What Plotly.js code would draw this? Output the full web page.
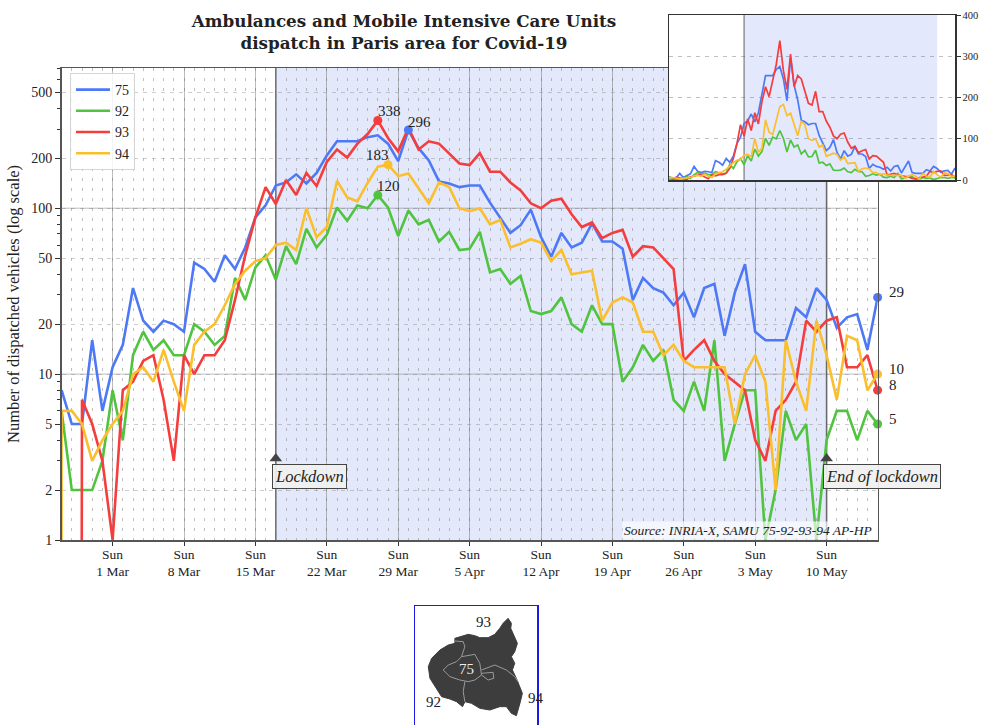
<!DOCTYPE html>
<html><head><meta charset="utf-8">
<script src="https://cdn.plot.ly/plotly-3.0.1.min.js"></script>
<style>html,body{margin:0;padding:0;background:#fff}</style></head>
<body><div id="chart" style="width:981px;height:725px"></div>
<script>
const W = 981, H = 725;
// daily counts, 24 Feb 2020 to 15 May 2020 (null = not visible)
const s75 = [null,8,5,5,16,6,11,15,33,21,18,21,20,18,47,43,36,52,43,58,88,104,137,143,160,141,163,208,253,253,253,268,275,245,192,296,230,194,145,141,134,137,137,108,88,71,79,98,67,51,71,58,62,81,63,63,57,28,38,33,31,26,31,22,33,35,17,31,46,18,16,16,16,25,22,33,28,19,22,23,14,29];
const s92 = [null,6,2,2,2,3,8,4,13,18,14,16,13,13,20,18,15,17,38,28,44,52,37,59,46,75,58,69,101,84,104,100,120,101,68,97,80,85,63,72,56,57,72,41,43,35,39,24,23,24,29,20,18,26,20,20,9,11,15,12,14,7,6,9,6,16,3,5,8,8,1,2,6,4,5,1,4,6,6,4,6,5];
const s93 = [0,0,0,7,5,3,1,8,9,12,13,7,3,13,10,13,13,16,28,52,88,134,106,148,120,163,136,190,226,202,245,280,338,265,220,305,226,253,245,214,186,182,215,166,166,143,128,107,100,111,114,92,77,82,66,71,74,51,59,58,50,43,12,14,16,12,10,9,8,4,3,6,7,9,21,18,21,22,11,11,13,8];
const s94 = [0,6,6,5,3,4,5,6,10,11,9,14,9,6,15,18,20,26,35,42,48,50,60,62,56,100,67,77,146,116,110,142,178,183,156,162,132,107,143,134,100,96,100,80,85,58,61,65,62,48,56,40,41,42,21,27,29,27,18,18,13,15,12,11,11,11,11,5,10,13,9,2,16,9,6,21,13,7,17,16,8,10];
const seriesNames = ['75','92','93','94'];
const seriesValues = [s75,s92,s93,s94];
const seriesColors = ['#4d79f6','#50c43f','#f53d3d','#fbbf2d'];
const peakDays = ['2020-03-30','2020-03-27','2020-03-27','2020-03-28'];
const peakValues = [296,120,338,183];
const peakOffsets = [[11,-8],[11,-9],[12,-9],[-11,-10]];
const lastValues = [29,5,8,10];
const sundays = ['2020-03-01','2020-03-08','2020-03-15','2020-03-22','2020-03-29','2020-04-05','2020-04-12','2020-04-19','2020-04-26','2020-05-03','2020-05-10'];
const sundayLabels = ['1 Mar','8 Mar','15 Mar','22 Mar','29 Mar','5 Apr','12 Apr','19 Apr','26 Apr','3 May','10 May'];
const yTicks = [1,2,5,10,20,50,100,200,500];
const yMinor = [3,4,6,7,8,9,30,40,60,70,80,90,300,400,600,700];
const lockStart = '2020-03-17', lockEnd = '2020-05-10';
const startDay = '2020-02-25', endDay = '2020-05-15';
const insetMax = 400;
// schematic departement map (map units)
const mapOutline = [[165,130],[195,122],[205,118],[225,122],[240,128],[265,128],[285,118],[300,100],[310,85],[325,70],[335,85],[333,100],[345,125],[353,145],[345,170],[335,185],[345,205],[338,225],[350,250],[360,275],[368,295],[362,320],[355,345],[350,362],[335,355],[320,335],[300,335],[270,345],[240,340],[215,325],[195,320],[188,335],[170,320],[150,312],[125,305],[105,275],[90,250],[85,215],[95,190],[120,165],[145,150],[165,145],[165,130]];
const mapBorders = [
 [[130,225],[145,210],[170,200],[185,185],[225,178],[240,205],[245,240],[225,255],[205,260],[180,255],[150,245],[130,225]],
 [[165,138],[190,140],[195,155],[185,185]],
 [[195,260],[190,290],[195,320]],
 [[245,225],[285,210],[320,225],[345,245],[355,260]],
 [[245,235],[280,232],[282,250],[265,255],[245,240]]
];
const mapLabels = [['93',250,80,'#222'],['75',200,222,'#eee'],['92',100,320,'#222'],['94',410,310,'#222']];

const FONT = 'Liberation Serif';
const ZERO_ON_LOG = 1e-100;
const dates = [];
for (let i = 0; i < s75.length; i++) {
  const d = new Date(Date.UTC(2020,1,24+i));
  dates.push(d.toISOString().slice(0,10));
}
const allDays = dates.slice(1);
const lastDay = dates[dates.length-1];
const fx = p => p / W, fy = p => 1 - p / H;

const traces = [];
seriesNames.forEach((n,i) => {
  traces.push({x:dates, y:seriesValues[i].map(v => v===null?null:(v>0?v:ZERO_ON_LOG)), name:n, mode:'lines', type:'scatter',
    line:{color:seriesColors[i], width:2.6}, xaxis:'x', yaxis:'y', hoverinfo:'skip'});
});
seriesNames.forEach((n,i) => {
  traces.push({x:[peakDays[i], lastDay], y:[peakValues[i], lastValues[i]], mode:'markers', type:'scatter', showlegend:false,
    cliponaxis:false, marker:{color:seriesColors[i], size:9}, xaxis:'x', yaxis:'y', hoverinfo:'skip'});
});
traces.push({x:[lockStart, lockEnd], y:[3.1,3.1], mode:'markers', type:'scatter', showlegend:false, cliponaxis:false,
  marker:{symbol:'triangle-up', color:'#444', size:11}, xaxis:'x', yaxis:'y', hoverinfo:'skip'});
// inset lockdown band, drawn as traces so it sits above the inset's own background
traces.push({x:[lockStart,lockEnd,lockEnd,lockStart,lockStart], y:[0,0,insetMax,insetMax,0], mode:'lines', type:'scatter', fill:'toself',
  fillcolor:'rgba(70,100,235,.15)', line:{width:0}, showlegend:false, xaxis:'x2', yaxis:'y2', hoverinfo:'skip'});
traces.push({x:[lockStart,lockStart], y:[0,insetMax], mode:'lines', type:'scatter', line:{color:'rgba(70,70,70,.6)', width:1.4},
  showlegend:false, xaxis:'x2', yaxis:'y2', hoverinfo:'skip'});
seriesNames.forEach((n,i) => {
  traces.push({x:dates, y:seriesValues[i], mode:'lines', type:'scatter', showlegend:false,
    line:{color:seriesColors[i], width:1.7}, xaxis:'x2', yaxis:'y2', hoverinfo:'skip'});
});
traces.push({x:mapOutline.map(p=>p[0]), y:mapOutline.map(p=>p[1]), mode:'lines', type:'scatter', fill:'toself', fillcolor:'#3d3d3d',
  line:{color:'#3d3d3d', width:1}, showlegend:false, xaxis:'x3', yaxis:'y3', hoverinfo:'skip'});
mapBorders.forEach(b => traces.push({x:b.map(p=>p[0]), y:b.map(p=>p[1]), mode:'lines', type:'scatter',
  line:{color:'#9a9a9a', width:1}, showlegend:false, xaxis:'x3', yaxis:'y3', hoverinfo:'skip'}));

const shapes = [
  {type:'rect', xref:'x', yref:'y domain', x0:lockStart, x1:lockEnd, y0:0, y1:1, fillcolor:'#e3e8fb', line:{width:0}, layer:'below'},
  {type:'line', xref:'x', yref:'y domain', x0:lockStart, x1:lockStart, y0:0, y1:1, line:{color:'rgba(70,70,70,.75)', width:1.6}, layer:'below'},
  {type:'line', xref:'x', yref:'y domain', x0:lockEnd, x1:lockEnd, y0:0, y1:1, line:{color:'rgba(70,70,70,.75)', width:1.6}, layer:'below'},
  {type:'line', xref:'x domain', yref:'y', x0:0, x1:1, y0:10, y1:10, line:{color:'rgba(90,90,90,.4)', width:1}, layer:'below'},
  {type:'line', xref:'x domain', yref:'y', x0:0, x1:1, y0:100, y1:100, line:{color:'rgba(90,90,90,.4)', width:1}, layer:'below'}
];

const annotations = [];
seriesNames.forEach((n,i) => {
  annotations.push({x:peakDays[i], y:Math.log10(peakValues[i]), xref:'x', yref:'y', text:String(peakValues[i]), showarrow:false,
    xshift:peakOffsets[i][0], yshift:-peakOffsets[i][1], font:{family:FONT,size:15,color:'#222'}});
  annotations.push({x:lastDay, y:Math.log10(lastValues[i]), xref:'x', yref:'y', text:String(lastValues[i]), showarrow:false,
    xanchor:'left', xshift:9, yshift:5, font:{family:FONT,size:15,color:'#222'}});
});
[[lockStart,'Lockdown'],[lockEnd,'End of lockdown']].forEach(a => {
  annotations.push({x:a[0], y:0.458, xref:'x', yref:'y', text:'<i>'+a[1]+'</i>', showarrow:false, xanchor:'left', yanchor:'top', xshift:-4,
    bgcolor:'rgba(240,240,240,.92)', bordercolor:'#444', borderwidth:1, borderpad:2, font:{family:FONT,size:16.5,color:'#222'}});
});
annotations.push({xref:'paper', yref:'paper', x:fx(874), y:fy(540), xanchor:'right', yanchor:'bottom', showarrow:false,
  text:'<i>Source: INRIA-X, SAMU 75-92-93-94 AP-HP</i>', bgcolor:'rgba(255,255,255,.65)', borderpad:1, font:{family:FONT,size:13.5,color:'#222'}});
mapLabels.forEach(l => annotations.push({x:l[1], y:l[2], xref:'x3', yref:'y3', text:l[0], showarrow:false, font:{family:FONT,size:15,color:l[3]}}));

const layout = {
  width:W, height:H, margin:{l:0,r:0,t:0,b:0,pad:0}, paper_bgcolor:'#fff', plot_bgcolor:'#fff',
  font:{family:FONT, size:13, color:'#222'},
  title:{text:'<b>Ambulances and Mobile Intensive Care Units<br>dispatch in Paris area for Covid-19</b>', x:fx(404), xanchor:'center', y:fy(27), yanchor:'top',
    font:{family:'DejaVu Serif', size:16.8, color:'#222'}},
  showlegend:true,
  legend:{x:fx(70), y:fy(73), xanchor:'left', yanchor:'top', bgcolor:'rgba(255,255,255,.85)', bordercolor:'#d5d5d5', borderwidth:1,
    font:{family:FONT,size:14,color:'#222'}, itemwidth:34},
  xaxis:{domain:[fx(61.6),fx(877.6)], anchor:'y', type:'date', range:[startDay,endDay], tickmode:'array', tickvals:sundays,
    ticktext:sundayLabels.map(s=>'Sun<br>'+s), ticks:'outside', ticklen:4, tickcolor:'#333', tickfont:{family:FONT,size:13.5,color:'#222'}, ticklabelstandoff:-3,
    showgrid:true, gridcolor:'rgba(90,90,90,.4)', gridwidth:1, showline:true, mirror:true, linecolor:'#555', linewidth:1.5, zeroline:false,
    minor:{tickmode:'array', tickvals:allDays, showgrid:true, gridcolor:'rgba(130,130,130,.5)', griddash:'3px,7px', gridwidth:1, ticks:''}},
  yaxis:{domain:[fy(540),fy(68)], anchor:'x', type:'log', range:[0,Math.log10(700)], tickmode:'array', tickvals:yTicks, ticktext:yTicks.map(String),
    ticks:'outside', ticklen:5, tickcolor:'#333', tickfont:{family:FONT,size:14,color:'#222'}, showline:true, mirror:true, linecolor:'#555', linewidth:1.5,
    showgrid:true, griddash:'4px,5px', gridcolor:'rgba(130,130,130,.4)', gridwidth:1, zeroline:false,
    minor:{tickmode:'array', tickvals:yMinor, ticks:'outside', ticklen:3, tickcolor:'#333', showgrid:false},
    title:{text:'Number of dispatched vehicles (log scale)', standoff:7, font:{family:FONT,size:16.5,color:'#222'}}},
  xaxis2:{domain:[fx(669),fx(955)], anchor:'y2', type:'date', range:[startDay,endDay], showticklabels:false, ticks:'', showgrid:false,
    showline:true, mirror:true, linecolor:'#333', linewidth:1.5, zeroline:false},
  yaxis2:{domain:[fy(180),fy(15)], anchor:'x2', side:'right', range:[0,insetMax], tickvals:[0,100,200,300,400], ticks:'outside', ticklen:4, tickcolor:'#333',
    tickfont:{family:FONT,size:10.5,color:'#222'}, showgrid:true, griddash:'4px,5px', gridcolor:'rgba(130,130,130,.5)', showline:true, mirror:true, linecolor:'#333', linewidth:1.5, zeroline:false},
  xaxis3:{domain:[fx(415),fx(537)], anchor:'y3', side:'top', range:[45,412], showticklabels:false, ticks:'', showgrid:false, zeroline:false, showline:true, linecolor:'#1a1ae6', linewidth:1.5},
  yaxis3:{domain:[0,fy(606)], anchor:'x3', range:[390,33], showticklabels:false, ticks:'', showgrid:false, zeroline:false, showline:true, mirror:true, linecolor:'#1a1ae6', linewidth:1.5},
  shapes, annotations
};
Plotly.newPlot('chart', traces, layout, {displayModeBar:false, staticPlot:true});
</script></body></html>
